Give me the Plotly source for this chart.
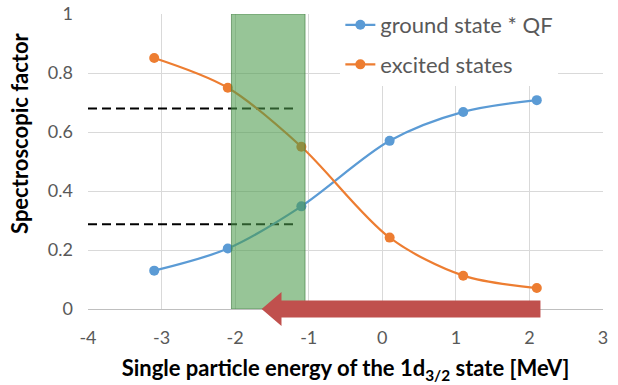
import plotly.graph_objects as go

# ---- data ----
energy = [-3.1, -2.1, -1.1, 0.1, 1.1, 2.1]
ground_qf = [0.13, 0.205, 0.348, 0.57, 0.668, 0.708]
excited = [0.851, 0.75, 0.55, 0.242, 0.113, 0.071]

dash_x = [-4.0, -1.2]
dash_levels = [0.68, 0.287]

band_x = [-2.05, -1.05]          # green band (x range)
arrow_x = [2.15, -1.64]          # red arrow tail -> tip

x_ticks = [-4, -3, -2, -1, 0, 1, 2, 3]
x_tick_text = ["-4", "-3", "-2", "-1", "0", "1", "2", "3"]
y_ticks = [0, 0.2, 0.4, 0.6, 0.8, 1]
y_tick_text = ["0", "0.2", "0.4", "0.6", "0.8", "1"]

BLUE = "#5B9BD5"
ORANGE = "#ED7D31"
RED = "#C0504D"
FONT = "Lato"

fig = go.Figure()

for lvl in dash_levels:
    fig.add_trace(go.Scatter(
        x=dash_x, y=[lvl, lvl], mode="lines",
        line=dict(color="black", width=2, dash="9px,5px"),
        showlegend=False, hoverinfo="skip"))

fig.add_trace(go.Scatter(
    x=energy, y=ground_qf, mode="lines+markers", name="ground state * QF",
    line=dict(color=BLUE, width=2.25, shape="spline", smoothing=0.9),
    marker=dict(color=BLUE, size=10), legendgroup="g1"))
fig.add_trace(go.Scatter(
    x=energy, y=excited, mode="lines+markers", name="excited states",
    line=dict(color=ORANGE, width=2.25, shape="spline", smoothing=0.9),
    marker=dict(color=ORANGE, size=10), legendgroup="g2"))

# green band
fig.add_shape(type="rect", xref="x", yref="y",
              x0=band_x[0], x1=band_x[1], y0=0, y1=1,
              fillcolor="rgba(75,155,75,0.58)",
              line=dict(color="rgba(60,120,60,0.6)", width=1),
              layer="above")

# red arrow (x in data units, y in paper units around the x axis)
h_body = 0.029
h_head = 0.058
head_len = 0.27
tail, tip = arrow_x
base = tip + head_len
path = (f"M {tail},{-h_body} L {base},{-h_body} L {base},{-h_head} "
        f"L {tip},0 L {base},{h_head} L {base},{h_body} L {tail},{h_body} Z")
fig.add_shape(type="path", xref="x", yref="paper", path=path,
              fillcolor=RED, line=dict(width=0), layer="above")

# y-axis title (placed like the reference, above the axis centre)
fig.add_annotation(text="Spectroscopic factor", textangle=-90,
                   xref="paper", yref="paper", x=-0.133, y=0.595,
                   xanchor="center", yanchor="middle", showarrow=False,
                   font=dict(size=22, color="black", family=FONT, weight="bold"))

fig.update_layout(
    width=618, height=385,
    margin=dict(l=88, r=15, t=14, b=76, autoexpand=False),
    plot_bgcolor="white", paper_bgcolor="white",
    font=dict(family=FONT, color="#595959", size=18),
    showlegend=True,
    legend=dict(x=0.49, y=1.034, xanchor="left", yanchor="top",
                bgcolor="white", font=dict(size=22, color="#595959"),
                tracegroupgap=8, traceorder="grouped"),
    xaxis=dict(range=[-4, 3], tickvals=x_ticks, ticktext=x_tick_text,
               showgrid=True, automargin=False,
               gridcolor="#d9d9d9", gridwidth=1, zeroline=False,
               showline=True, linecolor="#bfbfbf", linewidth=1,
               ticks="", ticklabelstandoff=12,
               title=dict(text="Single particle energy of the 1d<sub>3/2</sub> state [MeV]",
                          font=dict(size=22, color="black", family=FONT, weight="bold"),
                          standoff=14)),
    yaxis=dict(range=[0, 1], tickvals=y_ticks, ticktext=y_tick_text,
               showgrid=True, automargin=False,
               gridcolor="#d9d9d9", gridwidth=1, zeroline=False,
               ticks="", ticklabelstandoff=14),
)

fig.write_html("out.html", config={"displayModeBar": False},
               post_script="document.body.style.margin='0';"
                           "document.body.style.overflow='hidden';")
